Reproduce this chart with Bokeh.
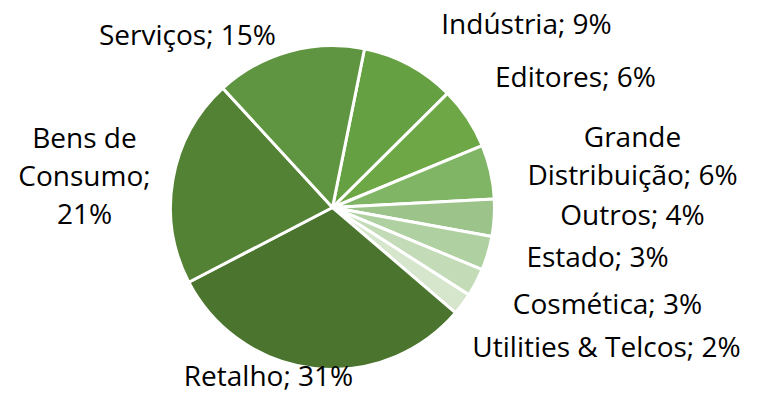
import math
from bokeh.plotting import figure
from bokeh.models import Range1d, ColumnDataSource
from bokeh.core.properties import value
from bokeh.embed import file_html
from bokeh.resources import INLINE

# ---- data ----
categories = ["Indústria", "Editores", "Grande Distribuição", "Outros", "Estado",
              "Cosmética", "Utilities & Telcos", "Retalho", "Bens de Consumo", "Serviços"]
shares = [9.4, 6.2, 5.4, 3.7, 3.4, 2.8, 2.2, 31.1, 20.8, 15.0]
label_pct = ["9%", "6%", "6%", "4%", "3%", "3%", "2%", "31%", "21%", "15%"]
label_lines = [["Indústria; 9%"], ["Editores; 6%"], ["Grande", "Distribuição; 6%"],
               ["Outros; 4%"], ["Estado; 3%"], ["Cosmética; 3%"], ["Utilities & Telcos; 2%"],
               ["Retalho; 31%"], ["Bens de", "Consumo;", "21%"], ["Serviços; 15%"]]

# ---- style / layout ----
colors = ["#65a042", "#6ea846", "#80b566", "#9cc38a", "#afd0a0",
          "#c3dbb7", "#d5e6cd", "#4b752f", "#548235", "#5f9540"]
label_pos = [(526, 34), (575, 87), (632, 147), (632, 225), (597, 267),
             (607, 314), (606, 357), (268, 386), (84, 148), (187, 45)]
baseline_fix = -12
line_gap = 38
cx, cy, radius = 332, 207, 162
start_deg = 11.4  # clockwise from 12 o'clock

total = sum(shares)
starts, ends = [], []
acc = start_deg
for s in shares:
    a0 = acc
    a1 = acc + 360.0 * s / total
    starts.append(math.radians(90 - a0))
    ends.append(math.radians(90 - a1))
    acc = a1

src = ColumnDataSource(dict(cat=categories, share=shares, start=starts, end=ends, color=colors,
                            x=[cx] * len(shares), y=[cy] * len(shares)))

p = figure(width=742, height=394, output_backend="svg", toolbar_location=None,
           x_range=Range1d(0, 742), y_range=Range1d(394, 0),
           min_border=0, outline_line_color=None)
p.axis.visible = False
p.grid.visible = False
p.background_fill_color = "white"
p.border_fill_color = "white"

p.wedge(x="x", y="y", radius=radius, start_angle="start", end_angle="end",
        direction="clock", fill_color="color", line_color="white", line_width=3, source=src)

tx, ty, tt = [], [], []
for (x, y), lines in zip(label_pos, label_lines):
    for i, ln in enumerate(lines):
        tx.append(x)
        ty.append(y + i * line_gap + baseline_fix)
        tt.append(ln)

p.text(x=tx, y=ty, text=tt, text_font=value("Open Sans"), text_font_size="28px",
       text_color="#000000", text_align="center", text_baseline="alphabetic")

open("out.html", "w").write(file_html(p, INLINE))
